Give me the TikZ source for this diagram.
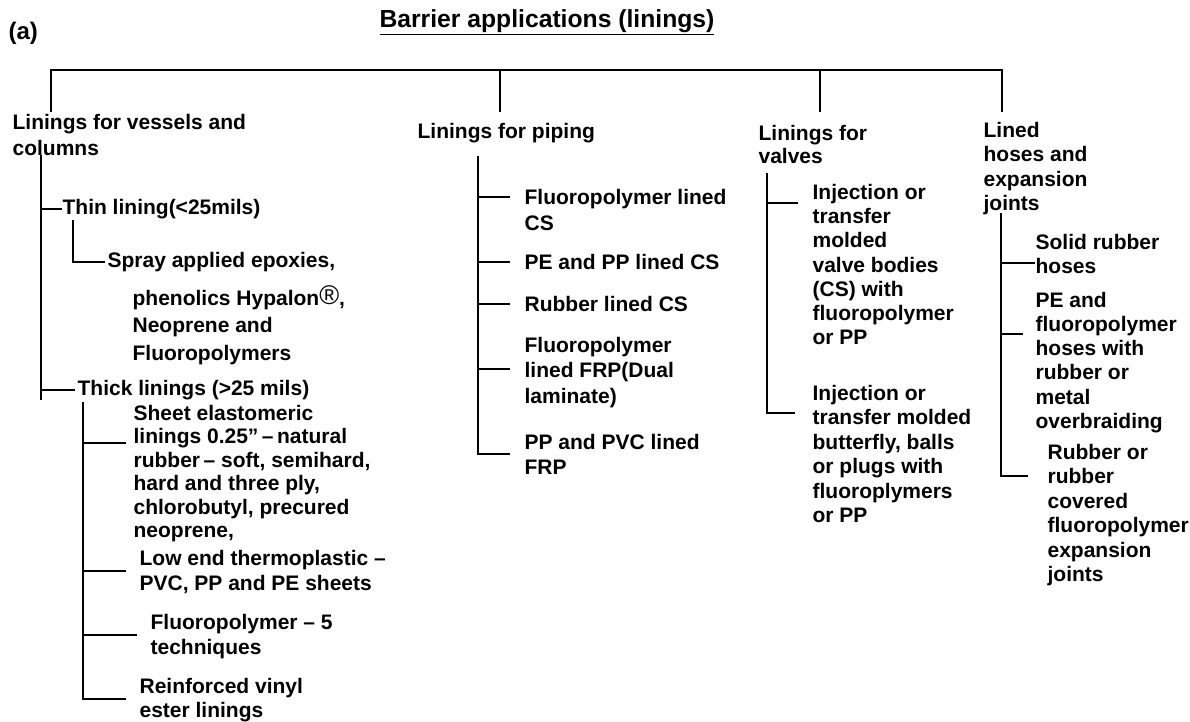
\documentclass[tikz,border=0pt]{standalone}
\usepackage{fontspec}
\setmainfont{Liberation Sans}
\tikzset{
  txt/.style={anchor=west, inner sep=0pt, align=left,
    font=\bfseries\fontsize{21}{#1}\selectfont},
  txt/.default=25
}
\newcommand{\regmark}{{\mdseries\fontsize{27}{27}\selectfont\raisebox{1pt}{®}}}
\begin{document}
\begin{tikzpicture}[x=1pt,y=-1pt,line width=1.2pt]
    \useasboundingbox (0,0) rectangle (1190,721);
    \node[txt, font=\bfseries\fontsize{24}{28}\selectfont] (a) at (8,33) {(a)};
    \node[inner sep=0pt, font=\bfseries\fontsize{24.7}{28}\selectfont] (title) at (547,22)
    {\underline{Barrier applications (linings)}};

    \node[txt=26] (vessels) at (12,135) {Linings for vessels and\\columns};
    \node[txt] (piping) at (417,133) {Linings for piping};
    \node[txt=23] (valves) at (758,144.5) {Linings for\\valves};
    \node[txt=24.3] (hoses) at (983,168.5) {Lined\\hoses and\\expansion\\joints};

    \coordinate (bus) at (0,70);
    \coordinate (d1) at (51,112);
    \coordinate (d2) at (500,112);
    \coordinate (d3) at (820,112);
    \coordinate (d4) at (1002,112);
    \draw (d1) |- (d4 |- bus) -- (d4);
    \draw (d2) -- (d2 |- bus);
    \draw (d3) -- (d3 |- bus);

    \node[txt] (thin) at (62,209) {Thin lining(<25mils)};
    \node[txt] (spray) at (107,262) {Spray applied epoxies,};
    \node[txt=27.5] (phenolics) at (132,325) {phenolics Hypalon\regmark,\\Neoprene and\\Fluoropolymers};
    \node[txt] (thick) at (77,390) {Thick linings (>25 mils)};
    \coordinate (t1) at (41,155);
    \coordinate (t1e) at (41,400);
    \draw (t1) -- (t1e);
    \draw (t1 |- thin.west) -- (thin.west);
    \draw (t1 |- thick.west) -- ([xshift=-2pt]thick.west);
    \coordinate (t2) at (73,220);
    \draw (t2) |- ([xshift=-2pt]spray.west);

    \node[txt=23.4] (sheet) at (133,473.5) {Sheet elastomeric\\linings 0.25”\,–\,natural\\rubber\,– soft, semihard,\\hard and three ply,\\chlorobutyl, precured\\neoprene,};
    \node[txt] (lowend) at (139,572.5) {Low end thermoplastic –\\PVC, PP and PE sheets};
    \node[txt] (fluoro) at (150,636.5) {Fluoropolymer – 5\\techniques};
    \node[txt=24] (vinyl) at (139,700) {Reinforced vinyl\\ester linings};
    \coordinate (t3) at (83,402);
    \coordinate (c1) at (126,443);
    \coordinate (c2) at (126,571);
    \coordinate (c3) at (137,635);
    \coordinate (c4) at (126,699);
    \draw (t3) |- (c4);
    \draw (t3 |- c1) -- (c1);
    \draw (t3 |- c2) -- (c2);
    \draw (t3 |- c3) -- (c3);

    \node[txt=26] (pfluoro) at (524,210) {Fluoropolymer lined\\CS};
    \node[txt] (ppe) at (524,262) {PE and PP lined CS};
    \node[txt] (prubber) at (524,304) {Rubber lined CS};
    \node[txt=25.5] (pfrp) at (524,372.5) {Fluoropolymer\\lined FRP(Dual\\laminate)};
    \node[txt] (ppvc) at (524,454.5) {PP and PVC lined\\FRP};
    \coordinate (p0) at (478,156);
    \coordinate (e1) at (510,197);
    \coordinate (e2) at (510,262);
    \coordinate (e3) at (510,304);
    \coordinate (e4) at (510,369);
    \coordinate (e5) at (510,454);
    \draw (p0) |- (e5);
    \draw (p0 |- e1) -- (e1);
    \draw (p0 |- e2) -- (e2);
    \draw (p0 |- e3) -- (e3);
    \draw (p0 |- e4) -- (e4);

    \node[txt=24.2] (vbodies) at (812,264.5) {Injection or\\transfer\\molded\\valve bodies\\(CS) with\\fluoropolymer\\or PP};
    \node[txt=24.4] (vballs) at (812,454) {Injection or\\transfer molded\\butterfly, balls\\or plugs with\\fluoroplymers\\or PP};
    \coordinate (q0) at (767,173);
    \coordinate (f1) at (798,203);
    \coordinate (f2) at (795,413);
    \draw (q0) |- (f2);
    \draw (q0 |- f1) -- (f1);

    \node[txt=24] (solid) at (1035,254) {Solid rubber\\hoses};
    \node[txt=24.2] (pehoses) at (1035,362.5) {PE and\\fluoropolymer\\hoses with\\rubber or\\metal\\overbraiding};
    \node[txt=24.4] (joints) at (1047,515) {Rubber or\\rubber\\covered\\fluoropolymer\\expansion\\joints};
    \coordinate (h0) at (1001,213);
    \coordinate (g1) at (1035,263);
    \coordinate (g2) at (1023,334);
    \coordinate (g3) at (1028,476);
    \draw (h0) |- (g3);
    \draw (h0 |- g1) -- (g1);
    \draw (h0 |- g2) -- (g2);
\end{tikzpicture}
\end{document}
